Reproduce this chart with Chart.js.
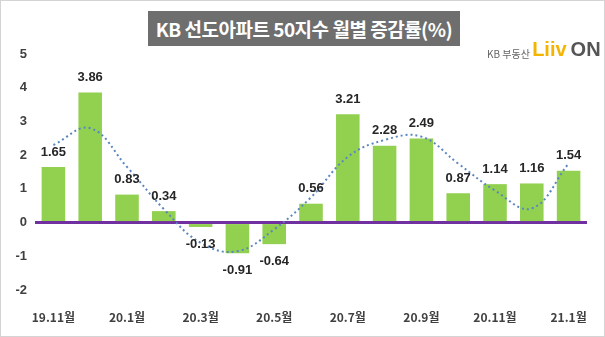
<!DOCTYPE html>
<html>
<head>
<meta charset="utf-8">
<script src="https://cdn.jsdelivr.net/npm/chart.js@4"></script>
<style>
  html, body { margin: 0; padding: 0; background: #fff; }
  #wrap { position: relative; width: 605px; height: 337px; box-sizing: border-box; border: 1px solid #d4d4d4; }
  #title {
    position: absolute; left: 147px; top: 10px; width: 312px; height: 35px;
    background: #6e6e6e; color: #fff; font: bold 19px "Noto Sans CJK KR", sans-serif;
    line-height: 35px; text-align: center; letter-spacing: -0.5px;
  }
  #logo { position: absolute; left: 486px; top: 37px; height: 26px; white-space: nowrap; }
  #logo .kb { font: 10px "Noto Sans CJK KR", sans-serif; color: #666; vertical-align: bottom; }
  #logo .liiv { font: bold 20px "Liberation Sans", sans-serif; color: #f5b400; vertical-align: bottom; }
  #logo .on { font: bold 20px "Liberation Sans", sans-serif; color: #555; vertical-align: bottom; }
  canvas { position: absolute; left: 0; top: 0; }
</style>
</head>
<body>
<div id="wrap">
  <canvas id="c" width="605" height="337"></canvas>
  <div id="title">KB 선도아파트 50지수 월별 증감률(%)</div>
  <div id="logo"><span class="kb">KB 부동산 </span><span class="liiv">Liiv</span> <span class="on">ON</span></div>
</div>
<script>
const months = ['19.11월', '19.12월', '20.1월', '20.2월', '20.3월', '20.4월', '20.5월', '20.6월',
  '20.7월', '20.8월', '20.9월', '20.10월', '20.11월', '20.12월', '21.1월']
const changeRates = [1.65, 3.86, 0.83, 0.34, -0.13, -0.91, -0.64, 0.56, 3.21, 2.28, 2.49, 0.87, 1.14, 1.16, 1.54]
// dotted trend line
const trendLine = [2.3, 2.8, 1.65, 0.4, -0.6, -0.85, -0.2, 0.75, 1.95, 2.45, 2.55, 1.75, 0.95, 0.42, 1.75]
const yTicks = [-2, -1, 0, 1, 2, 3, 4, 5]

const barLabels = {
  id: 'barLabels',
  afterDatasetsDraw(chart) {
    const ctx = chart.ctx
    const meta = chart.getDatasetMeta(0)
    ctx.save()
    ctx.font = 'bold 13px "Liberation Sans", sans-serif'
    ctx.fillStyle = '#262626'
    ctx.textAlign = 'center'
    ctx.textBaseline = 'middle'
    meta.data.forEach((bar, i) => {
      const v = changeRates[i]
      const y = v >= 0 ? bar.y - 15 : bar.y + 17
      ctx.fillText(v.toFixed(2), bar.x, y)
    })
    ctx.restore()
  }
}

new Chart(document.getElementById('c').getContext('2d'), {
  type: 'bar',
  data: {
    labels: months,
    datasets: [
      {
        type: 'bar',
        data: changeRates,
        backgroundColor: '#92d050',
        barPercentage: 0.8,
        categoryPercentage: 0.8,
        order: 2
      },
      {
        type: 'line',
        data: trendLine,
        borderColor: '#5a86c0',
        borderWidth: 2,
        borderDash: [2, 3],
        pointRadius: 0,
        tension: 0.4,
        fill: false,
        order: 1
      }
    ]
  },
  options: {
    responsive: false,
    animation: false,
    layout: { padding: { left: 4, right: 19, top: 53, bottom: 8 } },
    plugins: { legend: { display: false }, tooltip: { enabled: false } },
    scales: {
      x: {
        grid: { display: false },
        border: { display: false },
        ticks: {
          autoSkip: false,
          maxRotation: 0,
          color: '#404040',
          font: { family: '"Noto Sans CJK KR", sans-serif', weight: 'bold', size: 12 },
          padding: 12,
          callback: (v, i) => (i % 2 === 0 ? months[i] : '')
        },
        afterFit: (s) => { s.height = 40 }
      },
      y: {
        min: -2,
        max: 5,
        afterBuildTicks: (s) => { s.ticks = yTicks.map((v) => ({ value: v })) },
        grid: {
          drawTicks: false,
          color: (c) => (c.tick && c.tick.value === 0 ? '#7030a0' : 'rgba(0,0,0,0)'),
          lineWidth: (c) => (c.tick && c.tick.value === 0 ? 3 : 0)
        },
        border: { display: false },
        ticks: {
          color: '#404040',
          font: { family: '"Liberation Sans", sans-serif', weight: 'bold', size: 13 },
          padding: 8
        },
        afterFit: (s) => { s.width = 30 }
      }
    }
  },
  plugins: [barLabels]
})
</script>
</body>
</html>
